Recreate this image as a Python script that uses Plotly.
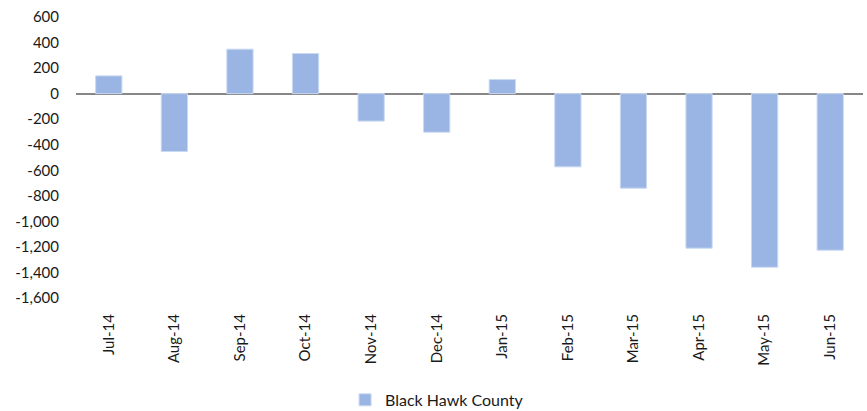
import plotly.graph_objects as go

months = ["Jul-14", "Aug-14", "Sep-14", "Oct-14", "Nov-14", "Dec-14",
          "Jan-15", "Feb-15", "Mar-15", "Apr-15", "May-15", "Jun-15"]
values = [139, -453, 348, 314, -215, -302, 110, -573, -740, -1210, -1359, -1226]
y_ticks = [600, 400, 200, 0, -200, -400, -600, -800, -1000, -1200, -1400, -1600]
y_tick_text = ["600", "400", "200", "0", "-200", "-400", "-600", "-800",
               "-1,000", "-1,200", "-1,400", "-1,600"]

FONT = "Lato, Carlito, Calibri, sans-serif"

fig = go.Figure()
fig.add_trace(go.Bar(
    x=months, y=values, name="Black Hawk County",
    marker=dict(color="#9AB5E3", line=dict(color="#C9D9F2", width=1)),
))

fig.update_layout(
    width=867, height=411,
    margin=dict(l=76, r=4, t=17, b=113, autoexpand=False),
    plot_bgcolor="white", paper_bgcolor="white",
    bargap=0.6,
    font=dict(family=FONT, size=15, color="#1a1a1a"),
    showlegend=True,
    legend=dict(orientation="h", xref="container", yref="container",
                x=0.398, xanchor="left", y=0.027, yanchor="middle",
                font=dict(family=FONT, size=16, color="#1a1a1a")),
    xaxis=dict(tickangle=-90, showgrid=False, showline=False, ticks="",
               automargin=False,
               ticklabelstandoff=12, tickfont=dict(size=15)),
    yaxis=dict(range=[-1600, 600], tickvals=y_ticks, ticktext=y_tick_text,
               automargin=False,
               showgrid=False, showline=False, ticks="", zeroline=True,
               zerolinecolor="#878787", zerolinewidth=2,
               ticklabelstandoff=16, tickfont=dict(size=15)),
)

fig.write_html("out.html", config={"displayModeBar": False},
               post_script="document.body.style.margin='0';document.body.style.overflow='hidden';")
